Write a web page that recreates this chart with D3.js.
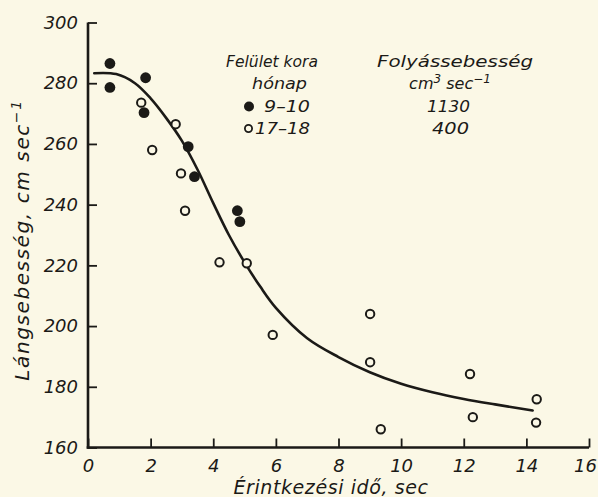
<!DOCTYPE html>
<html>
<head>
<meta charset="utf-8">
<script src="https://cdn.jsdelivr.net/npm/d3@7"></script>
<style>
  html, body { margin: 0; padding: 0; background: #fbf8e6; }
  svg { display: block; }
  text {
    font-family: "DejaVu Sans", sans-serif;
    font-style: oblique;
    fill: #1b1a17;
  }
</style>
</head>
<body>
<svg id="chart" width="598" height="497"></svg>
<script>
// Flame speed vs. contact time, two surface ages
const xTicks = [0, 2, 4, 6, 8, 10, 12, 14, 16];
const yTicks = [160, 180, 200, 220, 240, 260, 280, 300];

// surface age 9-10 months (flow 1130 cm3/s)
const age9to10 = [
  [0.70, 286.5], [0.70, 278.6], [1.84, 281.8], [1.79, 270.3],
  [3.20, 259.1], [3.40, 249.2], [4.77, 238.0], [4.85, 234.4]
];
// surface age 17-18 months (flow 400 cm3/s)
const age17to18 = [
  [1.70, 273.6], [2.05, 258.0], [2.80, 266.5], [2.97, 250.3],
  [3.10, 238.0], [4.20, 221.0], [5.07, 220.7], [5.90, 197.1],
  [9.01, 204.0], [9.01, 188.1], [9.35, 166.0], [12.20, 184.2],
  [12.29, 170.0], [14.33, 175.9], [14.31, 168.2]
];
// hand-fitted trend curve
const trend = [
  [0.2, 283.3], [0.9, 283.0], [1.5, 280.0], [2.0, 275.0], [2.5, 268.5],
  [3.0, 261.0], [3.5, 251.5], [4.0, 240.5], [4.5, 230.0], [5.0, 221.0],
  [5.5, 213.0], [6.0, 206.0], [7.0, 196.0], [8.0, 189.8], [9.0, 184.8],
  [10.0, 181.0], [11.0, 178.2], [12.0, 176.0], [13.0, 174.2], [14.2, 172.2]
];

const ink = "#1b1a17";
const paper = "#fbf8e6";
const svg = d3.select("#chart");

const x = d3.scaleLinear().domain([0, 16]).range([88, 589]);
const y = d3.scaleLinear().domain([160, 300]).range([447.5, 22.5]);

// axes with inward ticks
const gx = svg.append("g")
  .attr("transform", `translate(0,${y(160)})`)
  .call(d3.axisBottom(x).tickValues(xTicks).tickFormat(d3.format("d"))
    .tickSizeInner(-9).tickSizeOuter(0).tickPadding(12));
const gy = svg.append("g")
  .attr("transform", `translate(${x(0)},0)`)
  .call(d3.axisLeft(y).tickValues(yTicks).tickFormat(d3.format("d"))
    .tickSizeInner(-9).tickSizeOuter(0).tickPadding(10));

[gx, gy].forEach(g => {
  g.select(".domain").attr("stroke", ink).attr("stroke-width", 2.6);
  g.selectAll(".tick line").attr("stroke", ink).attr("stroke-width", 1.8);
  g.selectAll(".tick text").style("font-size", "18px").style("font-family", "DejaVu Sans").attr("fill", ink);
});
gx.select(".domain").attr("d", `M${x(0) - 1.3},0H${x(16)}`);
gy.select(".domain").attr("d", `M0,${y(160) + 1.3}V${y(300)}`);
// keep the last x label inside the frame
gx.selectAll(".tick text").filter(d => d === 16).attr("dx", -4);

// trend curve
svg.append("path")
  .datum(trend)
  .attr("fill", "none")
  .attr("stroke", ink)
  .attr("stroke-width", 2.6)
  .attr("stroke-linecap", "round")
  .attr("d", d3.line().x(d => x(d[0])).y(d => y(d[1])).curve(d3.curveCatmullRom.alpha(0.5)));

// points
svg.append("g").selectAll("circle")
  .data(age17to18).join("circle")
  .attr("cx", d => x(d[0])).attr("cy", d => y(d[1]))
  .attr("r", 4.2).attr("fill", paper)
  .attr("stroke", ink).attr("stroke-width", 2);
svg.append("g").selectAll("circle")
  .data(age9to10).join("circle")
  .attr("cx", d => x(d[0])).attr("cy", d => y(d[1]))
  .attr("r", 5.4).attr("fill", ink);

// axis titles
svg.append("text")
  .attr("x", 331).attr("y", 494)
  .attr("text-anchor", "middle")
  .style("font-size", "19px")
  .style("letter-spacing", "0.6px")
  .text("Érintkezési idő, sec");

const yt = svg.append("text")
  .attr("transform", "translate(29,240) rotate(-90)")
  .attr("text-anchor", "middle")
  .style("font-size", "20px")
  .style("letter-spacing", "1.6px");
yt.append("tspan").text("Lángsebesség, cm sec");
yt.append("tspan").attr("dy", -8).style("font-size", "14px").text("−1");

// legend
const leg = svg.append("g").style("font-size", "16px");
function legText(x0, yb, w, str) {
  return leg.append("text").attr("x", x0).attr("y", yb)
    .attr("textLength", w).attr("lengthAdjust", "spacingAndGlyphs").text(str);
}
legText(226, 67, 92, "Felület kora");
legText(252, 89, 55, "hónap");
leg.append("circle").attr("cx", 249).attr("cy", 106.5).attr("r", 5).attr("fill", ink);
legText(264, 112, 46, "9–10");
leg.append("circle").attr("cx", 248.5).attr("cy", 128.5).attr("r", 3.6)
  .attr("fill", "none").attr("stroke", ink).attr("stroke-width", 1.8);
legText(255, 134, 55, "17–18");

legText(377, 67, 156, "Folyássebesség");
const unit = leg.append("text").attr("x", 450).attr("y", 89).attr("text-anchor", "middle");
unit.append("tspan").text("cm");
unit.append("tspan").attr("dy", -6).style("font-size", "12px").text("3");
unit.append("tspan").attr("dy", 6).text(" sec");
unit.append("tspan").attr("dy", -6).style("font-size", "12px").text("−1");
legText(427, 112, 43, "1130");
legText(432, 134, 37, "400");
</script>
</body>
</html>
